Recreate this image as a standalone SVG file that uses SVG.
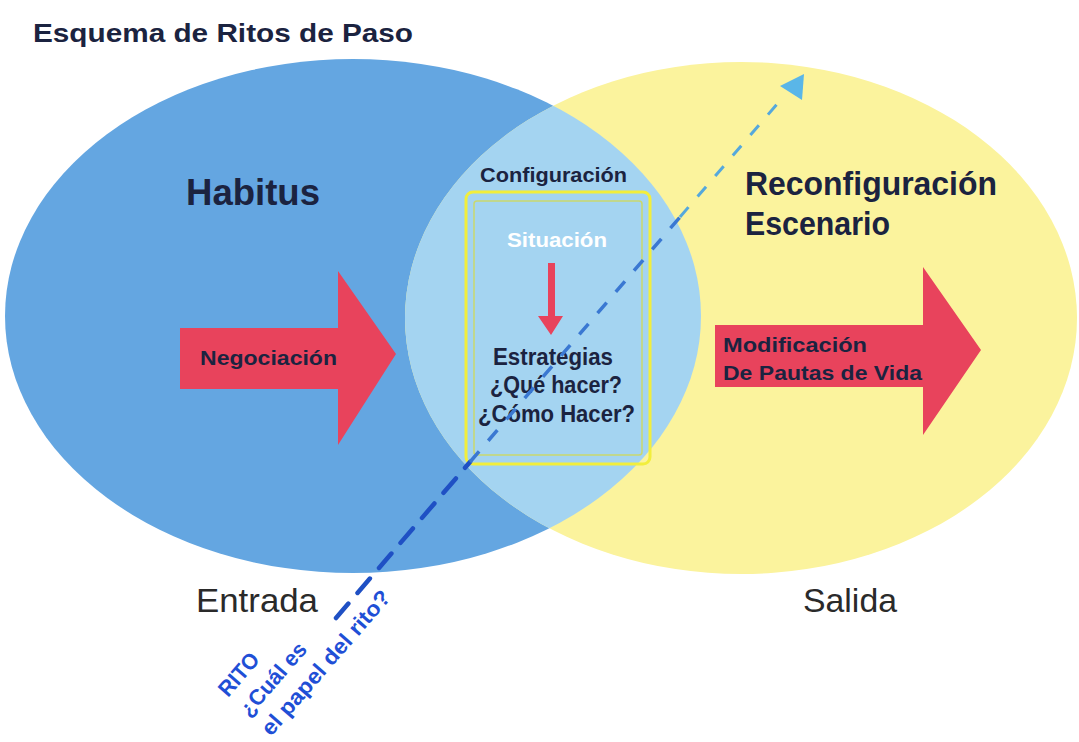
<svg xmlns="http://www.w3.org/2000/svg" width="1079" height="742" viewBox="0 0 1079 742">
<defs>
<style>
.t{font-family:"Liberation Sans",Arial,sans-serif;font-weight:bold;fill:#1b2340}
.r{font-family:"Liberation Sans",Arial,sans-serif;fill:#2a2a2a}
.red{fill:#e8435c}
.rito{font-family:"Liberation Sans",Arial,sans-serif;font-weight:bold;fill:#1f4fd6;font-size:22px}
</style>
<clipPath id="yclip"><ellipse cx="741" cy="318" rx="336" ry="256"/></clipPath>
</defs>
<rect width="1079" height="742" fill="#ffffff"/>
<g id="circle-habitus">
<ellipse cx="353" cy="316" rx="348" ry="257" fill="#64a6e1"/>
</g>
<g id="circle-reconfiguracion">
<ellipse cx="741" cy="318" rx="336" ry="256" fill="#fbf39d"/>
</g>
<g id="overlap">
<ellipse cx="353" cy="316" rx="348" ry="257" fill="#a4d4f1" clip-path="url(#yclip)"/>
</g>
<text class="t" x="33" y="42" font-size="25" textLength="380" lengthAdjust="spacingAndGlyphs">Esquema de Ritos de Paso</text>
<g id="habitus">
<text class="t" x="186" y="205" font-size="36" textLength="134" lengthAdjust="spacingAndGlyphs">Habitus</text>
</g>
<g id="reconfiguracion">
<text class="t" x="745" y="195" font-size="33" textLength="252" lengthAdjust="spacingAndGlyphs">Reconfiguración</text>
<text class="t" x="745" y="235" font-size="33" textLength="145" lengthAdjust="spacingAndGlyphs">Escenario</text>
</g>
<g id="negociacion">
<polygon class="red" points="180,328 338,328 338,271 396,354 338,445 338,389 180,389"/>
<text class="t" x="200" y="365" font-size="21" textLength="137" lengthAdjust="spacingAndGlyphs">Negociación</text>
</g>
<g id="modificacion">
<polygon class="red" points="715,325 923,325 923,267 981,350 923,435 923,387 715,387"/>
<text class="t" x="723" y="352" font-size="21" textLength="144" lengthAdjust="spacingAndGlyphs">Modificación</text>
<text class="t" x="723" y="380" font-size="21" textLength="199" lengthAdjust="spacingAndGlyphs">De Pautas de Vida</text>
</g>
<g id="configuracion">
<text class="t" x="480" y="182" font-size="21" textLength="147" lengthAdjust="spacingAndGlyphs">Configuración</text>
<rect x="466" y="192" width="184" height="272" rx="7" fill="none" stroke="#f2ee3c" stroke-width="3"/>
<rect x="474" y="201" width="168" height="254" rx="3" fill="none" stroke="#c9d86e" stroke-width="1.5"/>
<text x="507" y="247" font-family="Liberation Sans,Arial,sans-serif" font-weight="bold" font-size="20" fill="#ffffff" textLength="100" lengthAdjust="spacingAndGlyphs">Situación</text>
<polygon class="red" points="548,263 555,263 555,316 563,316 551,335 538,316 548,316"/>
<text class="t" x="493" y="365" font-size="23" textLength="120" lengthAdjust="spacingAndGlyphs">Estrategias</text>
<text class="t" x="490" y="393" font-size="23" textLength="132" lengthAdjust="spacingAndGlyphs">¿Qué hacer?</text>
<text class="t" x="478" y="422" font-size="23" textLength="157" lengthAdjust="spacingAndGlyphs">¿Cómo Hacer?</text>
</g>
<g id="entrada">
<text class="r" x="196" y="612" font-size="34" textLength="122" lengthAdjust="spacingAndGlyphs">Entrada</text>
</g>
<g id="salida">
<text class="r" x="803" y="612" font-size="34" textLength="94" lengthAdjust="spacingAndGlyphs">Salida</text>
</g>
<g id="connectors">
<line x1="336" y1="618" x2="470" y2="462" stroke="#1f50c4" stroke-width="4.5" stroke-dasharray="19 14" stroke-linecap="round"/>
<line x1="470" y1="462" x2="680" y2="217" stroke="#3a78d2" stroke-width="3.5" stroke-dasharray="14 14"/>
<line x1="680" y1="217" x2="784" y2="96" stroke="#55a8dc" stroke-width="3" stroke-dasharray="13 14"/>
<polygon points="780,86 804,74 802,100" fill="#5ab6e8"/>
</g>
<g id="rito" class="rito">
<text transform="translate(228,698) rotate(-49)" textLength="50" lengthAdjust="spacingAndGlyphs">RITO</text>
<text transform="translate(249,718) rotate(-49)" textLength="90" lengthAdjust="spacingAndGlyphs">¿Cuál es</text>
<text transform="translate(271,737) rotate(-49)" textLength="184" lengthAdjust="spacingAndGlyphs">el papel del rito?</text>
</g>
</svg>
